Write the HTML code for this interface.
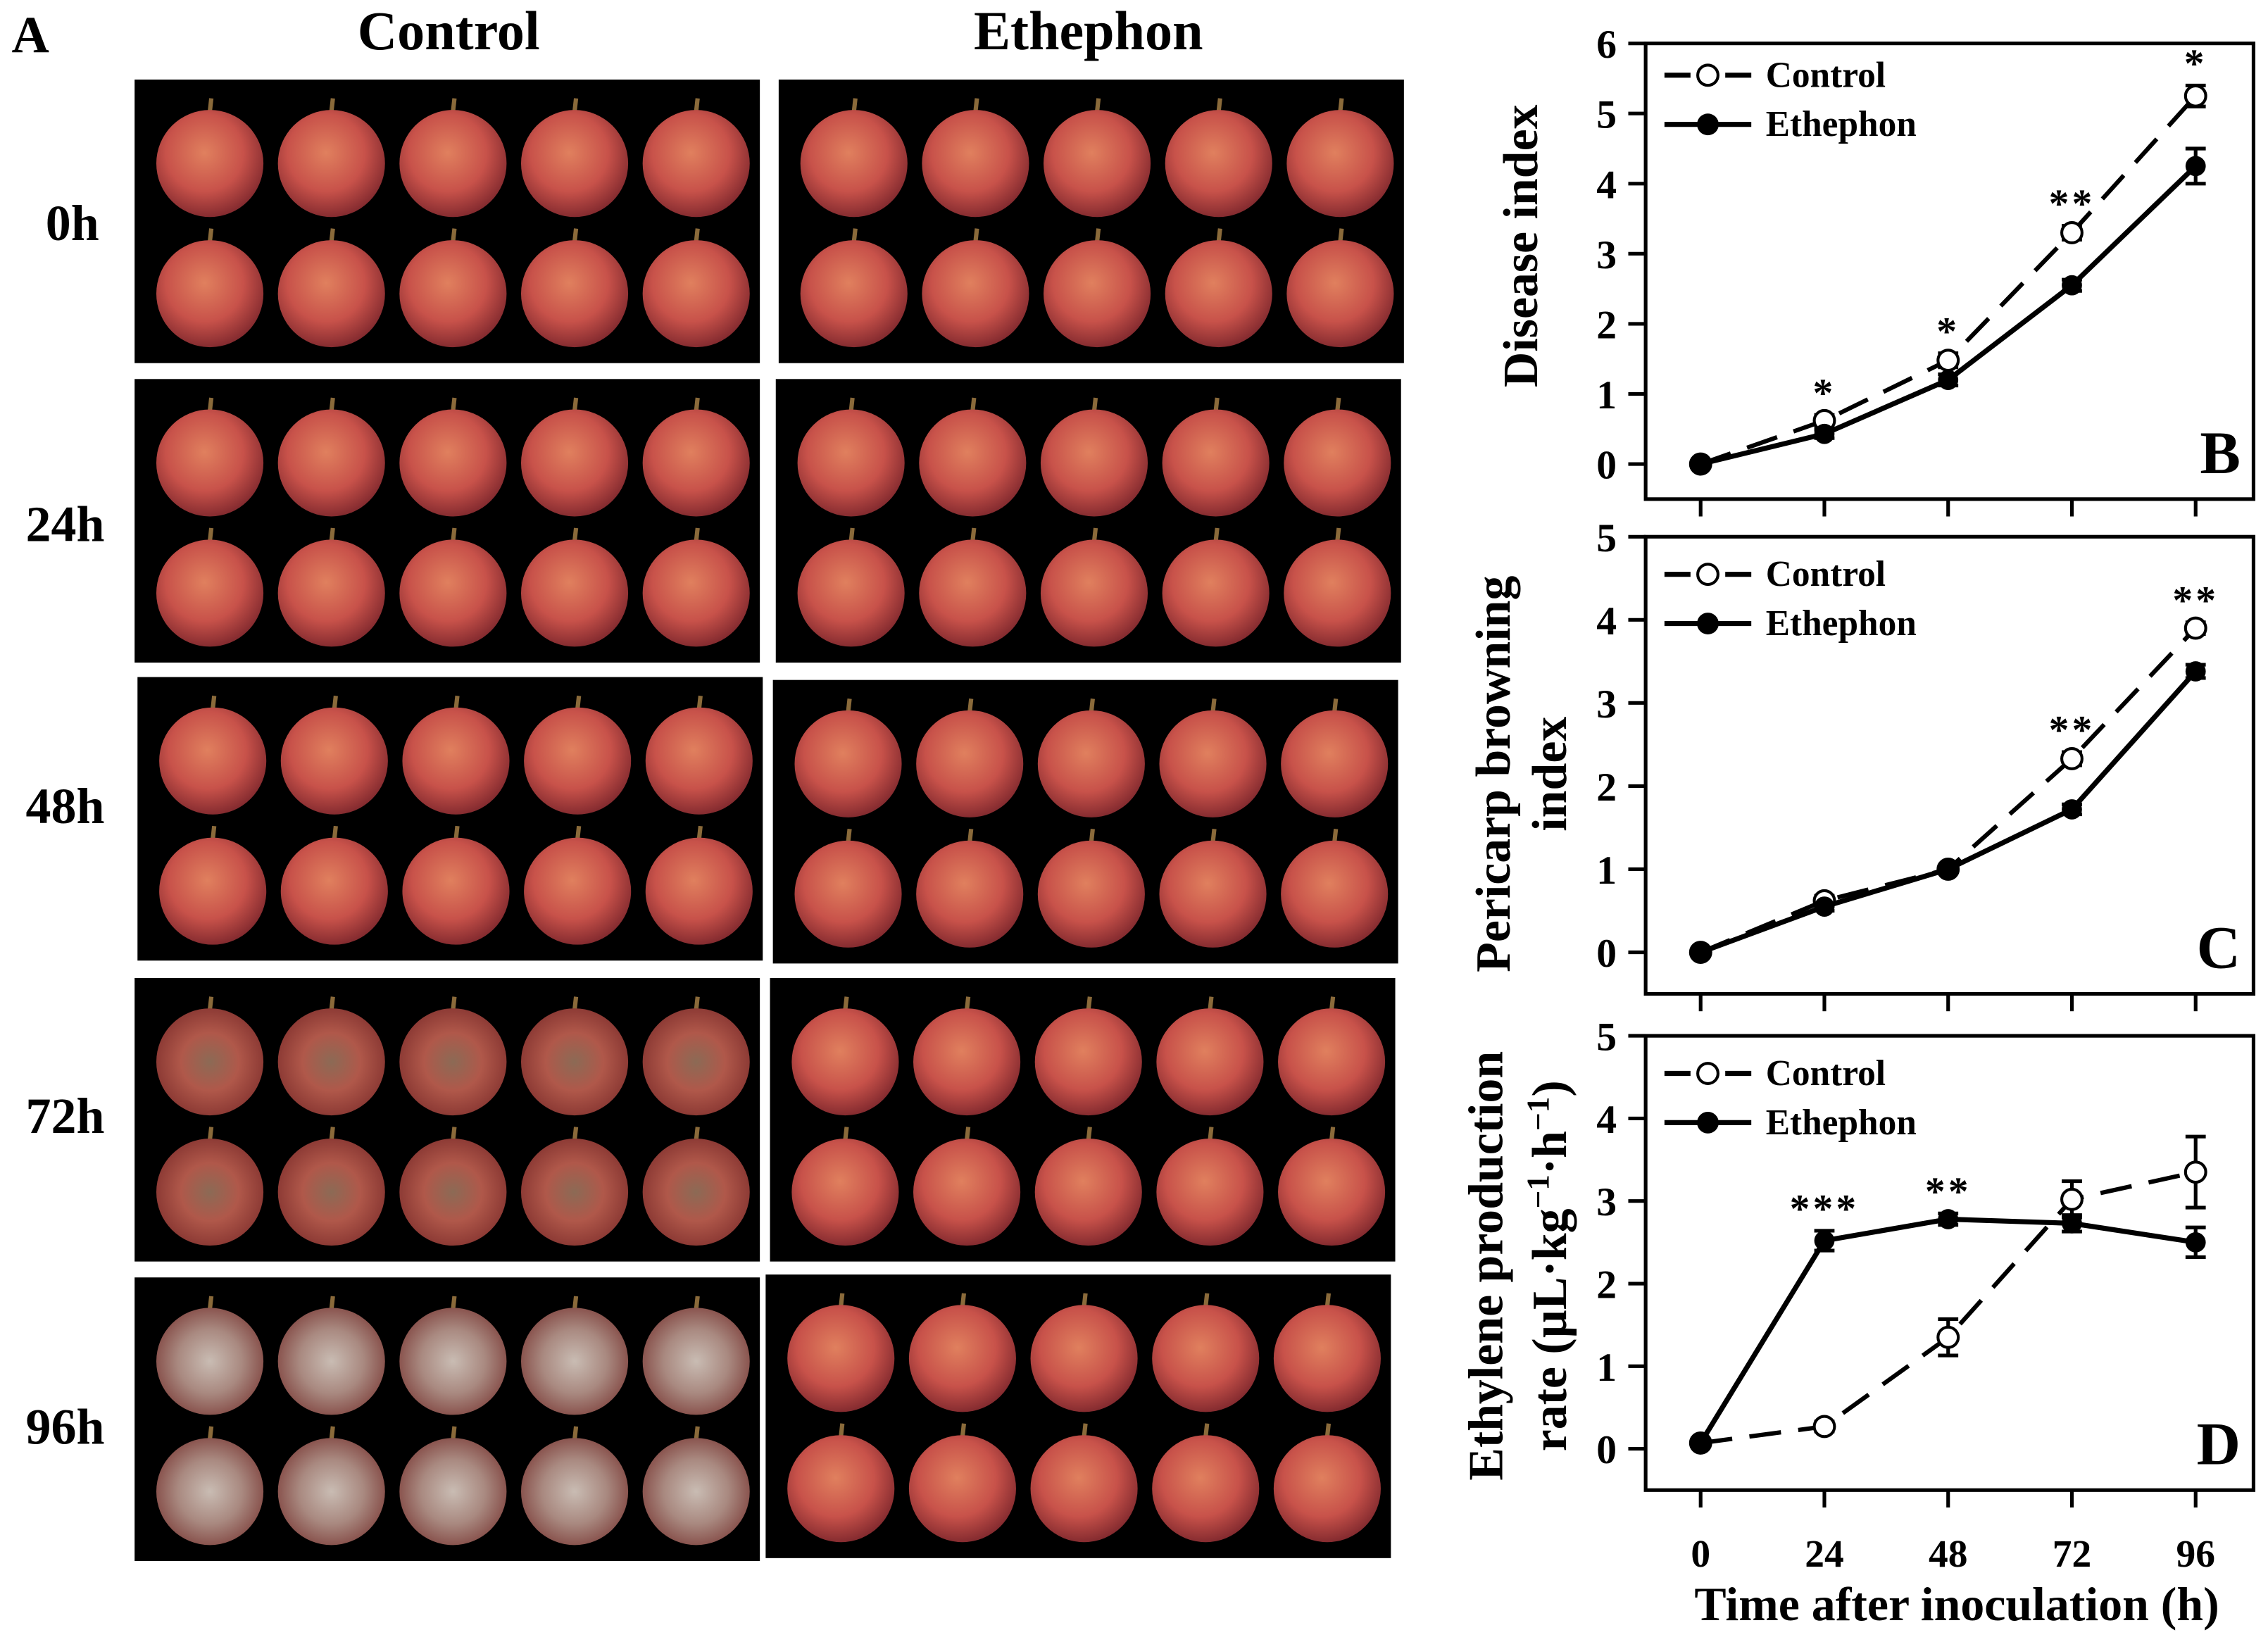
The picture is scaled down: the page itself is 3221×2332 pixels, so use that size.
<!DOCTYPE html>
<html><head><meta charset="utf-8"><style>
html,body{margin:0;padding:0;background:#fff;}
svg{display:block;}
text{font-family:"Liberation Serif",serif;font-weight:bold;fill:#000;}
</style></head><body>
<svg id="fig" width="3221" height="2332" viewBox="0 0 1567 1135" preserveAspectRatio="none" xmlns="http://www.w3.org/2000/svg">
<defs>
<radialGradient id="fr" cx="45%" cy="40%" r="60%"><stop offset="0" stop-color="#e0805e"/><stop offset="0.6" stop-color="#c8524a"/><stop offset="1" stop-color="#862c30"/></radialGradient>
<radialGradient id="fr72" cx="50%" cy="50%" r="60%"><stop offset="0" stop-color="#8c6a55"/><stop offset="0.45" stop-color="#b0584a"/><stop offset="1" stop-color="#7e2e2c"/></radialGradient>
<radialGradient id="fr96" cx="50%" cy="50%" r="60%"><stop offset="0" stop-color="#c9bcb3"/><stop offset="0.5" stop-color="#a98980"/><stop offset="1" stop-color="#7a3a36"/></radialGradient>
</defs>
<g id="photos"></g>
<g id="charts"></g>
</svg>
<script>
// ---------- chart data ----------
const times = [0, 24, 48, 72, 96];
const bControl = [0, 0.62, 1.48, 3.3, 5.25];
const bControlErr = [0.03, 0.08, 0.1, 0.1, 0.15];
const bEthephon = [0, 0.43, 1.2, 2.55, 4.25];
const bEthephonErr = [0.03, 0.06, 0.08, 0.08, 0.25];
const bStars = ["", "*", "*", "**", "*"];
const cControl = [0, 0.62, 1.0, 2.33, 3.9];
const cControlErr = [0.03, 0.06, 0.04, 0.08, 0.07];
const cEthephon = [0, 0.55, 1.0, 1.72, 3.38];
const cEthephonErr = [0.03, 0.05, 0.04, 0.06, 0.08];
const cStars = ["", "", "", "**", "**"];
const dControl = [0.07, 0.27, 1.35, 3.02, 3.35];
const dControlErr = [0.03, 0.06, 0.22, 0.22, 0.43];
const dEthephon = [0.07, 2.52, 2.78, 2.73, 2.5];
const dEthephonErr = [0.03, 0.12, 0.07, 0.1, 0.18];
const dStars = ["", "***", "**", "", ""];
const bTicks = [0,1,2,3,4,5,6];
const cTicks = [0,1,2,3,4,5];
const dTicks = [0,1,2,3,4,5];

const NS = "http://www.w3.org/2000/svg";
function mk(tag, attrs, parent, txt){
  const e = document.createElementNS(NS, tag);
  for (const k in attrs) e.setAttribute(k, attrs[k]);
  if (txt !== undefined) e.textContent = txt;
  parent.appendChild(e); return e;
}

// ---------- photo panel ----------
const P = document.getElementById('photos');
const blocks = [
 [93,55,'fr','fr'],[538,55,'fr','fr'],
 [93,262,'fr','fr'],[536,262,'fr','fr'],
 [95,468,'fr','fr'],[534,470,'fr','fr'],
 [93,676,'fr72','fr'],[532,676,'fr','fr'],
 [93,883,'fr96','fr'],[529,881,'fr','fr']];
blocks.forEach((b, bi) => {
  const g = mk('g', {}, P);
  
  
  mk('rect', {x:b[0], y:b[1], width:432, height:196, fill:'#000'}, g);
  for (let r=0;r<2;r++) for (let i=0;i<5;i++){
    const cx = b[0]+52+i*84, cy = b[1]+58+r*90;
    mk('line',{x1:cx,y1:cy-36,x2:cx+1,y2:cy-45,stroke:'#8a6a3a','stroke-width':3},g);
    mk('ellipse',{cx:cx,cy:cy,rx:37,ry:37,fill:'url(#'+b[2]+')'},g);
  }
});
const labs = [['A',8,36,'start',36],['Control',310,34,'middle',38],['Ethephon',752,34,'middle',38],
 ['0h',50,166,'middle',35],['24h',45,374,'middle',35],['48h',45,569,'middle',35],['72h',45,783,'middle',35],['96h',45,998,'middle',35]];
labs.forEach(l=>{
  const t = mk('text',{x:l[1],y:l[2],'text-anchor':l[3],'font-size':l[4]},P,l[0]);
  
  
});

// ---------- charts ----------
const C = document.getElementById('charts');
const X0 = 1137, X1 = 1557;
const xs = t => 1175 + t*(1517-1175)/96;
function chart(name, top, bottom, ymax, ticks, ctl, ctlE, eth, ethE, stars, letter, legY, titleLines){
  const g = mk('g',{},C);
  
  
  const zeroY = top + (bottom-top) * (ymax/(ymax+0.5));
  const ys = v => zeroY - v*(zeroY-top)/ymax;
  mk('rect',{x:X0,y:top,width:X1-X0,height:bottom-top,fill:'none',stroke:'#000','stroke-width':2.5},g);
  ticks.forEach(v=>{
    mk('line',{x1:X0-12,y1:ys(v),x2:X0,y2:ys(v),stroke:'#000','stroke-width':2.5},g);
    const t = mk('text',{x:X0-20,y:ys(v)+10,'text-anchor':'end','font-size':28},g,String(v));
    
    
  });
  times.forEach(t=>mk('line',{x1:xs(t),y1:bottom,x2:xs(t),y2:bottom+12,stroke:'#000','stroke-width':2.5},g));
  function errs(vals, e){
    vals.forEach((v,i)=>{
      const x = xs(times[i]);
      mk('line',{x1:x,y1:ys(v-e[i]),x2:x,y2:ys(v+e[i]),stroke:'#000','stroke-width':2.5},g);
      mk('line',{x1:x-7,y1:ys(v-e[i]),x2:x+7,y2:ys(v-e[i]),stroke:'#000','stroke-width':2.5},g);
      mk('line',{x1:x-7,y1:ys(v+e[i]),x2:x+7,y2:ys(v+e[i]),stroke:'#000','stroke-width':2.5},g);
    });
  }
  errs(ctl, ctlE); errs(eth, ethE);
  const pc = mk('polyline',{points:ctl.map((v,i)=>xs(times[i])+','+ys(v)).join(' '),fill:'none',stroke:'#000','stroke-width':3,'stroke-dasharray':'22,12'},g);
  
  
  const pe = mk('polyline',{points:eth.map((v,i)=>xs(times[i])+','+ys(v)).join(' '),fill:'none',stroke:'#000','stroke-width':3.5},g);
  
  
  ctl.forEach((v,i)=>{
    const c = mk('circle',{cx:xs(times[i]),cy:ys(v),r:7,fill:'#fff',stroke:'#000','stroke-width':2},g);
    
    
  });
  eth.forEach((v,i)=>{
    const c = mk('circle',{cx:xs(times[i]),cy:ys(v),r:7,fill:'#000'},g);
    
    
  });
  stars.forEach((s,i)=>{
    if(!s) return;
    const top2 = Math.max(ctl[i]+ctlE[i], eth[i]+ethE[i]);
    const t = mk('text',{x:xs(times[i]),y:ys(top2)-6,'text-anchor':'middle','font-size':28,'letter-spacing':2},g,s);
    
    
  });
  const lg = mk('g',{},g);
  
  
  mk('line',{x1:1150,y1:legY,x2:1168,y2:legY,stroke:'#000','stroke-width':3.5},lg);
  mk('line',{x1:1192,y1:legY,x2:1210,y2:legY,stroke:'#000','stroke-width':3.5},lg);
  mk('circle',{cx:1180,cy:legY,r:7,fill:'#fff',stroke:'#000','stroke-width':2},lg);
  mk('text',{x:1220,y:legY+8,'font-size':25},lg,'Control');
  mk('line',{x1:1150,y1:legY+34,x2:1210,y2:legY+34,stroke:'#000','stroke-width':3.5},lg);
  mk('circle',{cx:1180,cy:legY+34,r:7.5,fill:'#000'},lg);
  mk('text',{x:1220,y:legY+42,'font-size':25},lg,'Ethephon');
  const L = mk('text',{x:1548,y:bottom-18,'text-anchor':'end','font-size':42},g,letter);
  
  
  titleLines.forEach(tl=>{
    const t = mk('text',{x:0,y:0,'text-anchor':'middle','font-size':34,transform:'translate('+tl[0]+','+tl[1]+') rotate(-90)'},g);
    tl[2].forEach(part=>{
      mk('tspan', part[1] ? {'font-size':22,dy:-12} : (part[2]? {dy:12}:{}), t, part[0]);
    });
    
    
  });
}
chart('chart-b-disease-index',30,345,6,bTicks,bControl,bControlErr,bEthephon,bEthephonErr,bStars,'B',52,[[1062,170,[['Disease index']]]]);
chart('chart-c-browning-index',371,687,5,cTicks,cControl,cControlErr,cEthephon,cEthephonErr,cStars,'C',397,[[1043,535,[['Pericarp browning']]],[1082,535,[['index']]]]);
chart('chart-d-ethylene-rate',716,1030,5,dTicks,dControl,dControlErr,dEthephon,dEthephonErr,dStars,'D',742,[[1038,875,[['Ethylene production']]],[1082,875,[['rate (µL·kg'],['−1',true],['·h',false,true],['−1',true],[')',false,true]]]]);
times.forEach(t=>{
  const e = mk('text',{x:xs(t),y:1083,'text-anchor':'middle','font-size':27},C,String(t));
  
  
});
const xt = mk('text',{x:1352,y:1120,'text-anchor':'middle','font-size':33},C,'Time after inoculation (h)');


</script>
</body></html>
